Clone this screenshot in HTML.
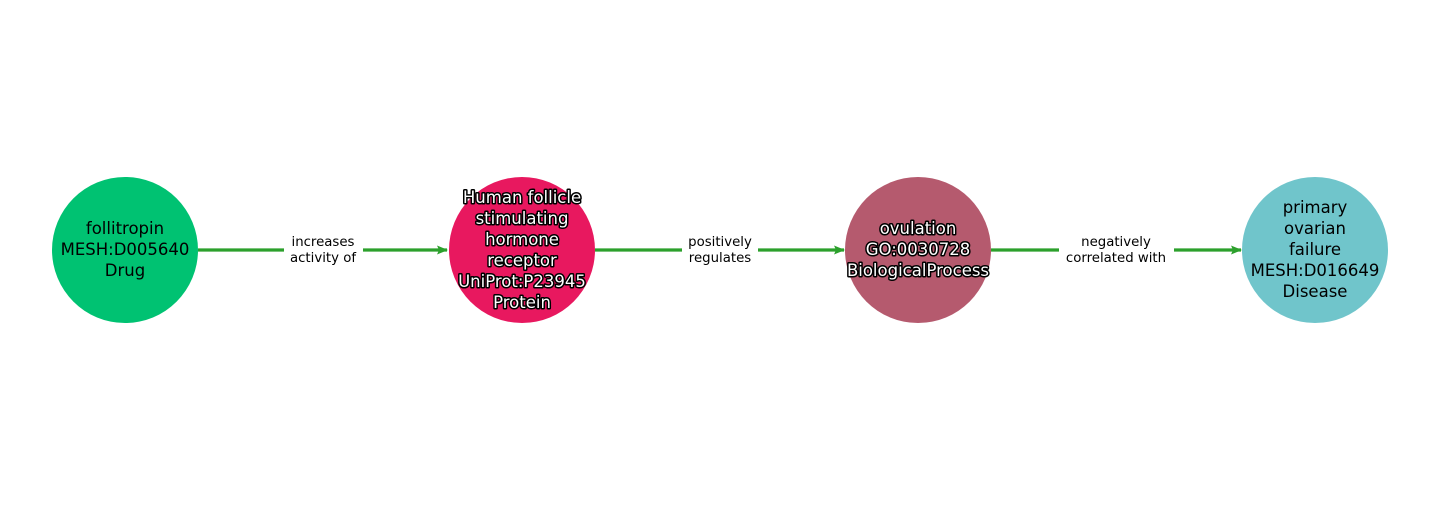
<!DOCTYPE html>
<html><head><meta charset="utf-8"><style>html,body{margin:0;padding:0;background:#fff}</style></head>
<body>
<svg width="1440" height="500" xmlns="http://www.w3.org/2000/svg" font-family="DejaVu Sans, sans-serif">
<defs><marker id="a" markerWidth="11" markerHeight="9" refX="10" refY="4.5" orient="auto" markerUnits="userSpaceOnUse"><path d="M0,0 L11,4.5 L0,9 L2,4.5 z" fill="#2ca02c"/></marker></defs>
<g stroke="#2ca02c" stroke-width="3.2" fill="none">
<line x1="198" y1="250" x2="447" y2="250" marker-end="url(#a)"/>
<line x1="595" y1="250" x2="844" y2="250" marker-end="url(#a)"/>
<line x1="991" y1="250" x2="1241" y2="250" marker-end="url(#a)"/>
</g>
<g fill="#fff"><rect x="284" y="232" width="79" height="36"/><rect x="682" y="232" width="76" height="36"/><rect x="1059" y="232" width="115" height="36"/></g>
<g font-size="13.3" text-anchor="middle" fill="#000">
<text x="323" y="246">increases</text><text x="323" y="262">activity of</text>
<text x="720" y="246">positively</text><text x="720" y="262">regulates</text>
<text x="1116" y="246">negatively</text><text x="1116" y="262">correlated with</text>
</g>
<circle cx="125" cy="250" r="73" fill="#00c272"/>
<circle cx="522" cy="250" r="73" fill="#e8185f"/>
<circle cx="918" cy="250" r="73" fill="#b55a6e"/>
<circle cx="1315" cy="250" r="73" fill="#70c5cb"/>
<g font-size="16.5" text-anchor="middle" fill="#000">
<text x="125" y="234">follitropin</text><text x="125" y="255">MESH:D005640</text><text x="125" y="276">Drug</text>
<text x="1315" y="213">primary</text><text x="1315" y="234">ovarian</text><text x="1315" y="255">failure</text><text x="1315" y="276">MESH:D016649</text><text x="1315" y="297">Disease</text>
</g>
<g font-size="16.5" text-anchor="middle" fill="#fff" stroke="#000" stroke-width="3" paint-order="stroke" stroke-linejoin="round">
<text x="522" y="203">Human follicle</text><text x="522" y="224">stimulating</text><text x="522" y="245">hormone</text><text x="522" y="266">receptor</text><text x="522" y="287">UniProt:P23945</text><text x="522" y="308">Protein</text>
<text x="918" y="234">ovulation</text><text x="918" y="255">GO:0030728</text><text x="918" y="276">BiologicalProcess</text>
</g>
</svg>
</body></html>
